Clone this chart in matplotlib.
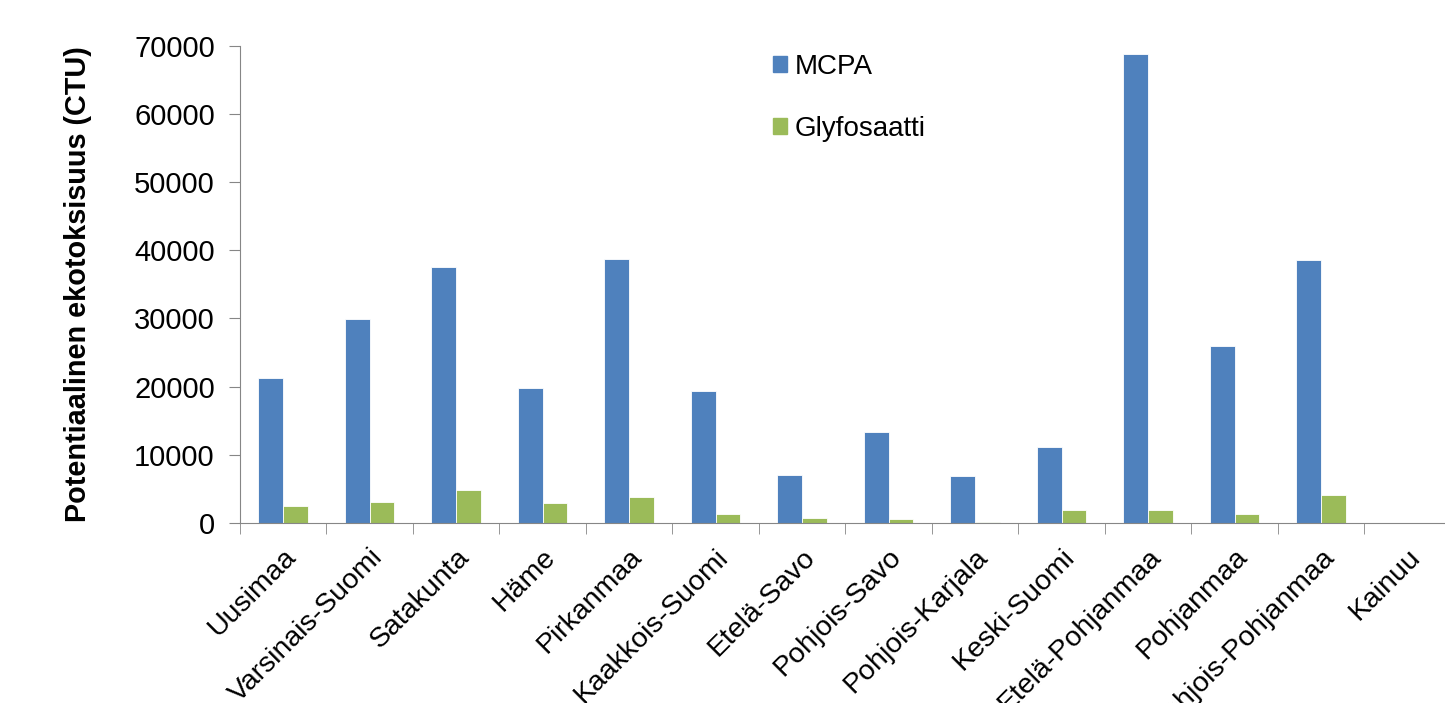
import numpy as np
import matplotlib
matplotlib.use("Agg")
import matplotlib.pyplot as plt
from matplotlib.patches import Patch

plt.rcParams["font.family"] = ["Liberation Sans", "DejaVu Sans"]

regions = ["Uusimaa", "Varsinais-Suomi", "Satakunta", "Häme", "Pirkanmaa",
           "Kaakkois-Suomi", "Etelä-Savo", "Pohjois-Savo", "Pohjois-Karjala",
           "Keski-Suomi", "Etelä-Pohjanmaa", "Pohjanmaa", "Pohjois-Pohjanmaa",
           "Kainuu"]
mcpa = [21300, 29900, 37600, 19800, 38700, 19300, 7000, 13400, 6900,
        11200, 68800, 26000, 38500, 0]
glyfosaatti = [2500, 3150, 4850, 2900, 3800, 1300, 730, 530, 200,
               1900, 1900, 1300, 4150, 0]

c_mcpa = "#4F81BD"
c_gly = "#9BBB59"
axis_gray = "#868686"

fig = plt.figure(figsize=(14.45, 7.03), dpi=100)
ax = fig.add_axes([0.166, 0.256, 0.838, 0.679])

x = np.arange(len(regions))
w = 1 / 3.5
ax.bar(x - w / 2, mcpa, w, color=c_mcpa, edgecolor="white", linewidth=0.6)
ax.bar(x + w / 2, glyfosaatti, w, color=c_gly, edgecolor="white", linewidth=0.6)

ax.set_xlim(-0.5, len(regions) - 0.5)
ax.set_ylim(0, 70000)
ax.set_yticks(np.arange(0, 70001, 10000))
ax.tick_params(axis="y", labelsize=21, length=8, color=axis_gray, pad=10)

ax.set_xticks(x)
ax.set_xticklabels(regions, rotation=45, ha="right", rotation_mode="anchor",
                   fontsize=20.5)
ax.set_xticks(np.arange(-0.5, len(regions), 1), minor=True)
ax.tick_params(axis="x", which="major", length=0, pad=15)
ax.tick_params(axis="x", which="minor", length=8, color=axis_gray)

for s in ["top", "right"]:
    ax.spines[s].set_visible(False)
for s in ["left", "bottom"]:
    ax.spines[s].set_color(axis_gray)

ax.set_ylabel("Potentiaalinen ekotoksisuus (CTU)", fontsize=20.8,
              fontweight="bold", labelpad=30)

handles = [Patch(color=c_mcpa), Patch(color=c_gly)]
ax.legend(handles, ["MCPA", "Glyfosaatti"], loc="upper left",
          bbox_to_anchor=(0.42, 1.035), frameon=False, fontsize=20,
          handlelength=0.5, handleheight=0.5, handletextpad=0.25,
          labelspacing=1.3)

fig.savefig("out.png", dpi=100)
